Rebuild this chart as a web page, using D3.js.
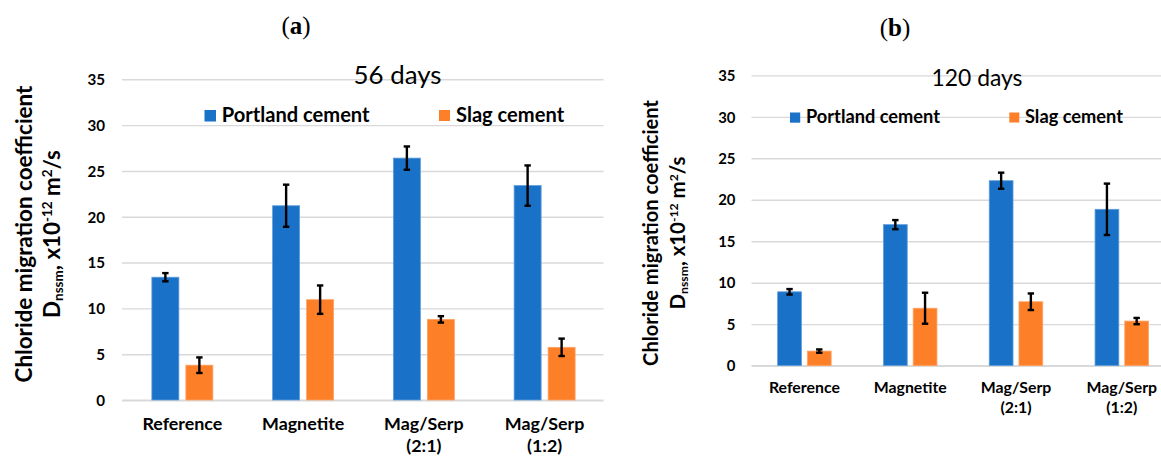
<!DOCTYPE html>
<html>
<head>
<meta charset="utf-8">
<script src="https://cdn.jsdelivr.net/npm/d3@7"></script>
<style>
  html, body { margin: 0; padding: 0; background: #fff; }
  svg { display: block; }
  text { font-family: Lato, "Open Sans", sans-serif; fill: #000; }
</style>
</head>
<body>
<svg id="chart" width="1161" height="457"></svg>
<script>
// ---------------- data ----------------
const categories = ["Reference", "Magnetite", "Mag/Serp (2:1)", "Mag/Serp (1:2)"];
const seriesNames = ["Portland cement", "Slag cement"];
const seriesColors = ["#1A71C8", "#FD7F28"];
const yTicks = [0, 5, 10, 15, 20, 25, 30, 35];

const portland56 = [13.4, 21.2, 26.4, 23.4];
const portland56Err = [0.45, 2.3, 1.27, 2.2];
const slag56 = [3.8, 10.95, 8.8, 5.75];
const slag56Err = [0.85, 1.55, 0.35, 0.95];

const portland120 = [8.9, 17.0, 22.3, 18.85];
const portland120Err = [0.33, 0.55, 0.97, 3.1];
const slag120 = [1.75, 6.92, 7.7, 5.37];
const slag120Err = [0.2, 1.87, 1.0, 0.38];

const panelLabels = ["a", "b"];
const panelTitles = ["56 days", "120 days"];

// ---------------- layout ----------------
const svg = d3.select("#chart");

const panels = [
  {
    label: panelLabels[0], title: panelTitles[0],
    values: [portland56, slag56], errs: [portland56Err, slag56Err],
    x0: 122, x1: 605, yTop: 79.3, yBot: 400, gridEnd: 603.5,
    pair: 61, gapFrac: 7 / 34, tickPad: 17, tickW: 17.6,
    labelPos: [296, 34], titlePos: [397.5, 84], titleW: 88,
    leg: { sq: [204.5, 110, 11.5], t1: [221.7, 121.5, 148], sq2: [439, 110, 11], t2: [456, 121.5, 108] },
    ytitle: { x1: 32, x2: 60, cy: 234, w1: 297, w2: 168 },
    xlab: { y1: 430, y2: 452, w: 80 }
  },
  {
    label: panelLabels[1], title: panelTitles[1],
    values: [portland120, slag120], errs: [portland120Err, slag120Err],
    x0: 751.5, x1: 1174.7, yTop: 75.4, yBot: 365.6, gridEnd: 1161,
    pair: 53.5, gapFrac: 0.2, tickPad: 16, tickW: 17.3,
    labelPos: [895, 35.5], titlePos: [977, 86], titleW: 91,
    leg: { sq: [790, 112.5, 10.2], t1: [806, 122.5, 134], sq2: [1009.3, 112.5, 10], t2: [1025, 122.5, 97] },
    ytitle: { x1: 658, x2: 685, cy: 233, w1: 266, w2: 153 },
    xlab: { y1: 393, y2: 413, w: 71 }
  }
];

function fitSize(textSel, targetW) {
  const fs = parseFloat(textSel.attr("font-size"));
  const len = textSel.node().getComputedTextLength();
  return fs * targetW / len;
}

panels.forEach(p => {
  const g = svg.append("g");

  const y = d3.scaleLinear().domain([0, 35]).range([p.yBot, p.yTop]);
  const x = d3.scaleBand().domain(categories).range([p.x0, p.x1]).padding(0);
  const off = (x.bandwidth() - p.pair) / 2;
  const xs = d3.scaleBand().domain(seriesNames).range([off, off + p.pair])
    .paddingInner(p.gapFrac).paddingOuter(0);

  // gridlines + tick labels
  const axis = d3.axisLeft(y).tickValues(yTicks)
    .tickSize(-(p.gridEnd - p.x0)).tickPadding(p.tickPad);
  const ag = g.append("g").attr("transform", `translate(${p.x0},0)`).call(axis);
  ag.select(".domain").remove();
  ag.selectAll(".tick line")
    .attr("stroke", "#d9d9d9")
    .attr("stroke-width", d => d === 0 ? 2 : 1.4);
  ag.selectAll(".tick text")
    .attr("font-family", "Lato")
    .attr("font-weight", "bold")
    .attr("font-size", 17)
    .attr("fill", "#000")
    .attr("dy", "0.35em");
  const tk = ag.select(".tick:last-of-type text");
  const tfs = fitSize(tk, p.tickW);
  ag.selectAll(".tick text").attr("font-size", tfs);

  // bars
  const groups = g.append("g").selectAll("g")
    .data(categories).join("g")
    .attr("transform", d => `translate(${x(d)},0)`);

  seriesNames.forEach((s, si) => {
    groups.append("rect")
      .attr("x", xs(s))
      .attr("width", xs.bandwidth())
      .attr("y", (d, i) => y(p.values[si][i]))
      .attr("height", (d, i) => y(0) - y(p.values[si][i]))
      .attr("fill", seriesColors[si])
      .attr("stroke", si === 0 ? "#5E9DDC" : "#FFA366")
      .attr("stroke-width", 0.8);
  });

  // error bars
  seriesNames.forEach((s, si) => {
    const cx = xs(s) + xs.bandwidth() / 2;
    const eg = groups.append("g").attr("stroke", "#000").attr("stroke-width", 2.4);
    eg.append("line")
      .attr("x1", cx).attr("x2", cx)
      .attr("y1", (d, i) => y(p.values[si][i] + p.errs[si][i]))
      .attr("y2", (d, i) => y(p.values[si][i] - p.errs[si][i]));
    [1, -1].forEach(sg => {
      eg.append("line")
        .attr("x1", cx - 3.2).attr("x2", cx + 3.2)
        .attr("y1", (d, i) => y(p.values[si][i] + sg * p.errs[si][i]))
        .attr("y2", (d, i) => y(p.values[si][i] + sg * p.errs[si][i]));
    });
  });

  // x labels
  const xl = g.append("g").selectAll("text")
    .data(categories).join("text")
    .attr("text-anchor", "middle")
    .attr("font-weight", "bold")
    .attr("font-size", 16)
    .attr("x", d => x(d) + x.bandwidth() / 2);
  xl.each(function(d) {
    const parts = d.split(" ");
    const t = d3.select(this);
    parts.forEach((pt, k) => {
      t.append("tspan").attr("x", x(d) + x.bandwidth() / 2)
        .attr("y", k === 0 ? p.xlab.y1 : p.xlab.y2).text(pt);
    });
  });
  const xfs = fitSize(xl.filter(d => d === "Reference"), p.xlab.w);
  xl.attr("font-size", xfs);

  // panel label (a)/(b)
  const pl = g.append("text")
    .attr("x", p.labelPos[0]).attr("y", p.labelPos[1])
    .attr("text-anchor", "middle")
    .style("font-family", "'Liberation Serif', 'DejaVu Serif', serif")
    .attr("font-size", 25);
  pl.append("tspan").text("(");
  pl.append("tspan").attr("font-weight", "bold").text(p.label);
  pl.append("tspan").text(")");

  // chart title
  const tt = g.append("text")
    .attr("x", p.titlePos[0]).attr("y", p.titlePos[1])
    .attr("text-anchor", "middle")
    .attr("font-size", 26)
    .text(p.title);
  tt.attr("font-size", fitSize(tt, p.titleW));

  // legend
  const L = p.leg;
  g.append("rect").attr("x", L.sq[0]).attr("y", L.sq[1]).attr("width", L.sq[2]).attr("height", L.sq[2]).attr("fill", seriesColors[0]);
  g.append("rect").attr("x", L.sq2[0]).attr("y", L.sq2[1]).attr("width", L.sq2[2]).attr("height", L.sq2[2]).attr("fill", seriesColors[1]);
  const l1 = g.append("text").attr("x", L.t1[0]).attr("y", L.t1[1]).attr("font-weight", "bold").attr("font-size", 20).text(seriesNames[0]);
  const lfs = fitSize(l1, L.t1[2]);
  l1.attr("font-size", lfs);
  g.append("text").attr("x", L.t2[0]).attr("y", L.t2[1]).attr("font-weight", "bold").attr("font-size", lfs).text(seriesNames[1]);

  // y title (two lines, rotated)
  const Y = p.ytitle;
  const yt1 = g.append("text")
    .attr("transform", `translate(${Y.x1},${Y.cy}) rotate(-90)`)
    .attr("text-anchor", "middle").attr("font-weight", "bold")
    .attr("font-size", 20)
    .text("Chloride migration coefficient");
  yt1.attr("font-size", fitSize(yt1, Y.w1));

  const yt2 = g.append("text")
    .attr("transform", `translate(${Y.x2},${Y.cy}) rotate(-90)`)
    .attr("text-anchor", "middle").attr("font-weight", "bold")
    .attr("font-size", 20);
  yt2.append("tspan").text("D");
  yt2.append("tspan").attr("font-size", "0.6em").attr("dy", "0.25em").text("nssm");
  yt2.append("tspan").attr("dy", "-0.15em").text(", x10");
  yt2.append("tspan").attr("font-size", "0.6em").attr("dy", "-0.6em").text("-12");
  yt2.append("tspan").attr("dy", "0.36em").text(" m");
  yt2.append("tspan").attr("font-size", "0.6em").attr("dy", "-0.6em").text("2");
  yt2.append("tspan").attr("dy", "0.36em").text("/s");
  yt2.attr("font-size", fitSize(yt2, Y.w2));
});
</script>
</body>
</html>
